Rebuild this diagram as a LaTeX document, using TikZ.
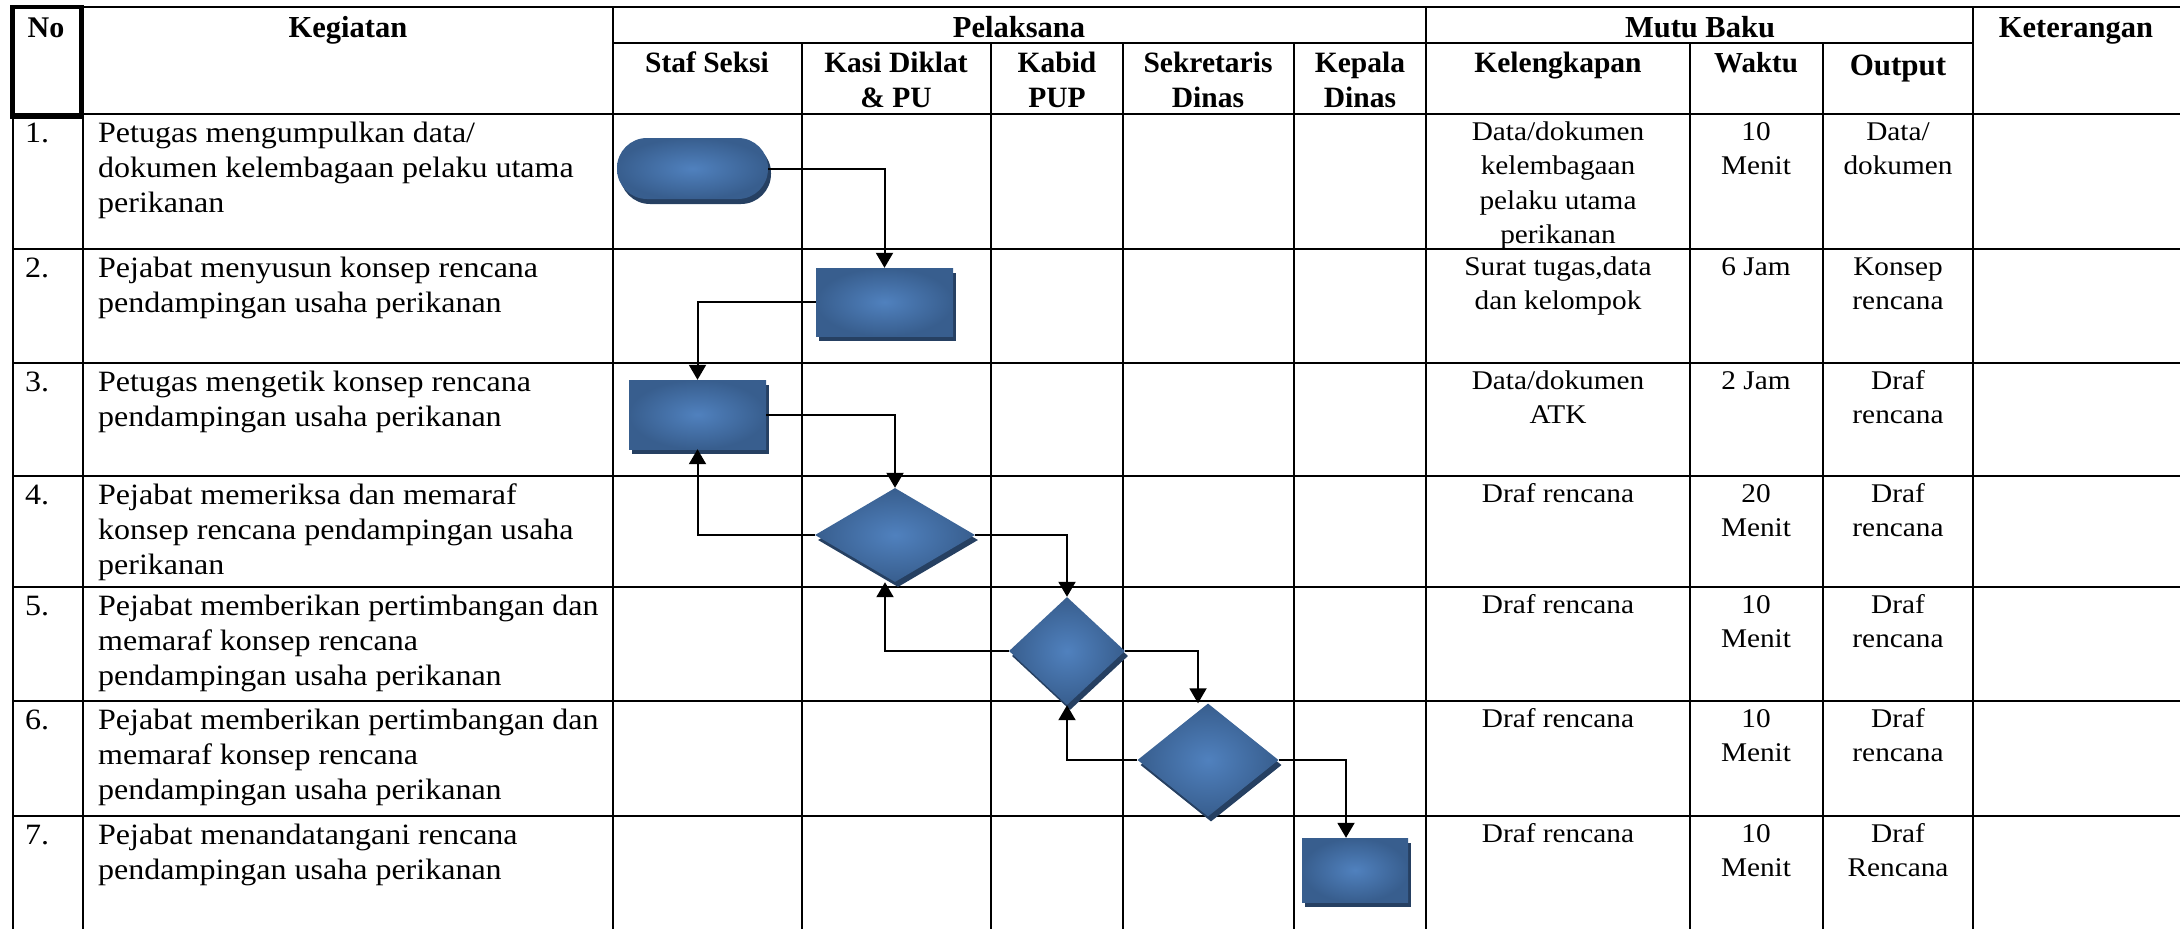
\documentclass[tikz,border=0pt]{standalone}
\usepackage{fontspec}
\setmainfont{Liberation Serif}
\newfontfamily\bodyf{Liberation Serif}[FakeStretch=1.085]
\usetikzlibrary{shapes.geometric,arrows.meta,shadows}
\definecolor{fcin}{RGB}{80,129,190}
\definecolor{fcout}{RGB}{56,94,142}
\definecolor{fshd}{RGB}{38,64,98}
\newcommand\kgt[1]{\parbox[t]{540pt}{\raggedright\bodyf\fontsize{29.5}{35}\selectfont #1}}
\newcommand\mbt[2]{\parbox[t]{#1}{\centering\bodyf\fontsize{27}{34.5}\selectfont #2}}
\newcommand\hdt[3][29.5]{\parbox[t]{#2}{\centering\bfseries\fontsize{#1}{35}\selectfont #3}}
\tikzset{
  grid/.style={line width=2pt},
  kg/.style={anchor=base west, inner sep=0pt},
  cc/.style={anchor=base, inner sep=0pt},
  fillbox/.style={inner sep=0pt, shading=radial, inner color=fcin, outer color=fcout,
    general shadow={fill=fshd, shadow xshift=3pt, shadow yshift=-5pt}},
  term/.style={fillbox, rectangle, rounded corners=30pt},
  procbox/.style={fillbox, rectangle},
  dia/.style={fillbox, diamond},
  flow/.style={draw, line width=2pt, -{Triangle[width=17pt,length=15pt]}}
}
\begin{document}
\begin{tikzpicture}[x=1pt,y=-1pt]
\useasboundingbox (0,0) rectangle (2180,929);
\fill[white] (0,0) rectangle (2180,929);
% table grid
\draw[grid] (12,7) -- (2180,7);
\draw[grid] (613,43) -- (1973,43);
\foreach \yy in {114,249,363,476,587,701,816} \draw[grid] (13,\yy) -- (2180,\yy);
\foreach \xx in {13,83,613,1426,1973} \draw[grid] (\xx,7) -- (\xx,929);
\foreach \xx in {802,991,1123,1294,1690,1823} \draw[grid] (\xx,43) -- (\xx,929);
\draw[line width=4.5pt] (12.5,7) rectangle (81.5,117);
% headers
\node[cc] (hno) at (46,37) {\hdt[30]{70pt}{No}};
\node[cc] (hkg) at (348,37) {\hdt[30.5]{400pt}{Kegiatan}};
\node[cc] (hpl) at (1019,37) {\hdt[30.5]{400pt}{Pelaksana}};
\node[cc] (hmb) at (1700,37) {\hdt[30.5]{400pt}{Mutu Baku}};
\node[cc] (hket) at (2076,37) {\hdt[30.5]{200pt}{Keterangan}};
\node[cc] (hss) at (707,72) {\hdt{180pt}{Staf Seksi}};
\node[cc] (hks) at (896,72) {\hdt{180pt}{Kasi Diklat\\\& PU}};
\node[cc] (hkb) at (1057,72) {\hdt{125pt}{Kabid\\PUP}};
\node[cc] (hsd) at (1208,72) {\hdt{165pt}{Sekretaris\\Dinas}};
\node[cc] (hkd) at (1360,72) {\hdt{125pt}{Kepala\\Dinas}};
\node[cc] (hkel) at (1558,72) {\hdt{250pt}{Kelengkapan}};
\node[cc] (hwk) at (1756,72) {\hdt[29]{125pt}{Waktu}};
\node[cc] (hout) at (1898,75) {\hdt[31]{140pt}{Output}};
% numbers and activities
\node[kg] (n1) at (25,142) {\kgt{1.}};
\node[kg] (k1) at (98,142) {\kgt{Petugas mengumpulkan data/\\dokumen kelembagaan pelaku utama\\perikanan}};
\node[kg] (n2) at (25,277) {\kgt{2.}};
\node[kg] (k2) at (98,277) {\kgt{Pejabat menyusun konsep rencana\\pendampingan usaha perikanan}};
\node[kg] (n3) at (25,391) {\kgt{3.}};
\node[kg] (k3) at (98,391) {\kgt{Petugas mengetik konsep rencana\\pendampingan usaha perikanan}};
\node[kg] (n4) at (25,504) {\kgt{4.}};
\node[kg] (k4) at (98,504) {\kgt{Pejabat memeriksa dan memaraf\\konsep rencana pendampingan usaha\\perikanan}};
\node[kg] (n5) at (25,615) {\kgt{5.}};
\node[kg] (k5) at (98,615) {\kgt{Pejabat memberikan pertimbangan dan\\memaraf konsep rencana\\pendampingan usaha perikanan}};
\node[kg] (n6) at (25,729) {\kgt{6.}};
\node[kg] (k6) at (98,729) {\kgt{Pejabat memberikan pertimbangan dan\\memaraf konsep rencana\\pendampingan usaha perikanan}};
\node[kg] (n7) at (25,844) {\kgt{7.}};
\node[kg] (k7) at (98,844) {\kgt{Pejabat menandatangani rencana\\pendampingan usaha perikanan}};
% mutu baku
\node[cc] (l1) at (1558,140) {\mbt{250pt}{Data/dokumen\\kelembagaan\\pelaku utama\\perikanan}};
\node[cc] (w1) at (1756,140) {\mbt{125pt}{10\\Menit}};
\node[cc] (o1) at (1898,140) {\mbt{140pt}{Data/\\dokumen}};
\node[cc] (l2) at (1558,275) {\mbt{250pt}{Surat tugas,data\\dan kelompok}};
\node[cc] (w2) at (1756,275) {\mbt{125pt}{6 Jam}};
\node[cc] (o2) at (1898,275) {\mbt{140pt}{Konsep\\rencana}};
\node[cc] (l3) at (1558,389) {\mbt{250pt}{Data/dokumen\\ATK}};
\node[cc] (w3) at (1756,389) {\mbt{125pt}{2 Jam}};
\node[cc] (o3) at (1898,389) {\mbt{140pt}{Draf\\rencana}};
\node[cc] (l4) at (1558,502) {\mbt{250pt}{Draf rencana}};
\node[cc] (w4) at (1756,502) {\mbt{125pt}{20\\Menit}};
\node[cc] (o4) at (1898,502) {\mbt{140pt}{Draf\\rencana}};
\node[cc] (l5) at (1558,613) {\mbt{250pt}{Draf rencana}};
\node[cc] (w5) at (1756,613) {\mbt{125pt}{10\\Menit}};
\node[cc] (o5) at (1898,613) {\mbt{140pt}{Draf\\rencana}};
\node[cc] (l6) at (1558,727) {\mbt{250pt}{Draf rencana}};
\node[cc] (w6) at (1756,727) {\mbt{125pt}{10\\Menit}};
\node[cc] (o6) at (1898,727) {\mbt{140pt}{Draf\\rencana}};
\node[cc] (l7) at (1558,842) {\mbt{250pt}{Draf rencana}};
\node[cc] (w7) at (1756,842) {\mbt{125pt}{10\\Menit}};
\node[cc] (o7) at (1898,842) {\mbt{140pt}{Draf\\Rencana}};
% flow shapes
\node[term, minimum width=151pt, minimum height=61pt] (t1) at (692.5,168.5) {};
\node[procbox, minimum width=137pt, minimum height=68pt] (r2) at (884.5,302) {};
\node[procbox, minimum width=137pt, minimum height=69pt] (r3) at (697.5,414.5) {};
\node[dia, minimum width=160pt, minimum height=94pt] (d1) at (895,535) {};
\node[dia, minimum width=116pt, minimum height=108pt] (d2) at (1067,651) {};
\node[dia, minimum width=141pt, minimum height=113pt] (d3) at (1208,760) {};
\node[procbox, minimum width=106pt, minimum height=64pt] (r7) at (1355,870) {};
\coordinate (d1in) at ([xshift=-10pt]d1.south);
\coordinate (d3in) at ([xshift=-10pt]d3.north);
\coordinate (r7in) at ([xshift=-9pt]r7.north);
% connectors
\draw[flow] (t1.east) -| (r2.north);
\draw[flow] (r2.west) -| (r3.north);
\draw[flow] (r3.east) -| (d1.north);
\draw[flow] (d1.west) -| (r3.south);
\draw[flow] (d1.east) -| (d2.north);
\draw[flow] (d2.west) -| (d1in);
\draw[flow] (d2.east) -| (d3in);
\draw[flow] (d3.west) -| (d2.south);
\draw[flow] (d3.east) -| (r7in);
\end{tikzpicture}
\end{document}
